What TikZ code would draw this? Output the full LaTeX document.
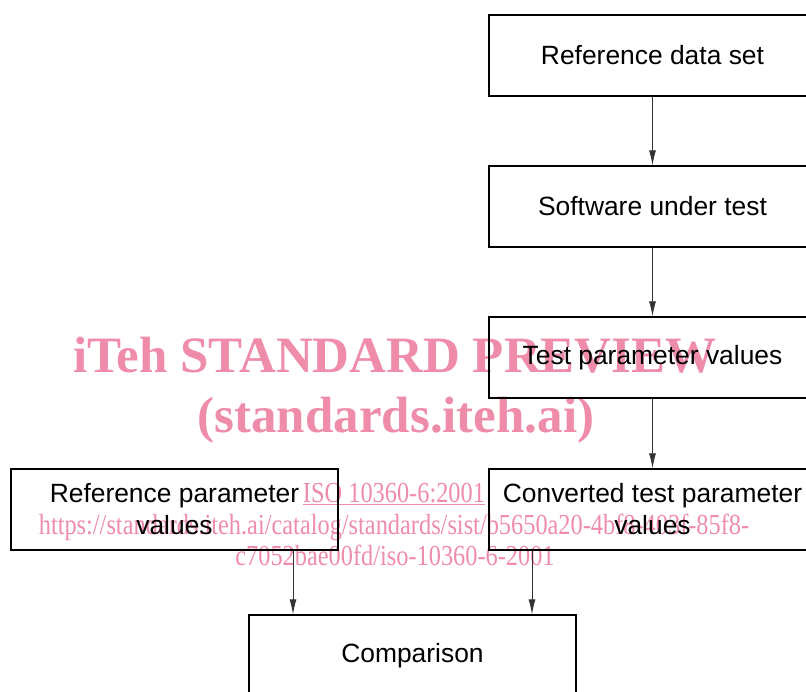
\documentclass[tikz,border=0pt]{standalone}
\usepackage{fontspec}
\setmainfont{Liberation Sans}
\newfontfamily\wmserif{Liberation Serif}
\newfontfamily\wmnarrow[FakeStretch=0.84]{Liberation Serif}
\usetikzlibrary{arrows.meta,calc}
\definecolor{wmpink}{RGB}{238,140,170}
\tikzset{
  blockbox/.style={draw=black, line width=1.4pt, minimum width=327pt, minimum height=81pt,
    inner sep=0pt, align=center, font=\fontsize{26.4}{32}\selectfont},
  flowarrow/.style={draw=black!80, line width=0.9pt, -{Latex[length=15pt,width=7pt]}},
  wmbig/.style={text=wmpink, inner sep=0pt, font=\wmserif\bfseries\fontsize{51}{60}\selectfont},
  wmsmall/.style={text=wmpink, inner sep=0pt, font=\wmnarrow\fontsize{29}{34}\selectfont}
}
\begin{document}
\begin{tikzpicture}[x=1pt, y=-1pt]
  \useasboundingbox (0,0) rectangle (806,691);
  \clip (0,0) rectangle (806,691);

  % watermark layer
  \node[wmbig, anchor=base] (wm1) at (395,372) {iTeh STANDARD PREVIEW};
  \node[wmbig, anchor=base] (wm2) at (396,432) {(standards.iteh.ai)};
  \node[wmsmall, anchor=base] (wm3) at (394,502) {\underline{ISO 10360-6:2001}};
  \node[wmsmall, anchor=base] (wm4) at (394,534) {https://standards.iteh.ai/catalog/standards/sist/b5650a20-4bf8-403f-85f8-};
  \node[wmsmall, anchor=base] (wm5) at (395,565) {c7052bae00fd/iso-10360-6-2001};

  % process blocks
  \node[blockbox] (rds) at (652.5,55.5)  {Reference data set};
  \node[blockbox] (sut) at (652.5,206.5) {Software under test};
  \node[blockbox] (tpv) at (652.5,357.5) {Test parameter values};
  \node[blockbox] (ctp) at (652.5,509.5) {Converted test parameter\\values};
  \node[blockbox] (rpv) at (174.5,509.5) {Reference parameter\\values};
  \node[blockbox] (cmp) at (412.5,655.5) {Comparison};

  % connectors
  \coordinate (lx) at (293,0);
  \coordinate (rx) at (532,0);
  \draw[flowarrow] (rds.south) -- (sut.north);
  \draw[flowarrow] (sut.south) -- (tpv.north);
  \draw[flowarrow] (tpv.south) -- (ctp.north);
  \draw[flowarrow] (rpv.south -| lx) -- (cmp.north -| lx);
  \draw[flowarrow] (ctp.south -| rx) -- (cmp.north -| rx);
\end{tikzpicture}
\end{document}
